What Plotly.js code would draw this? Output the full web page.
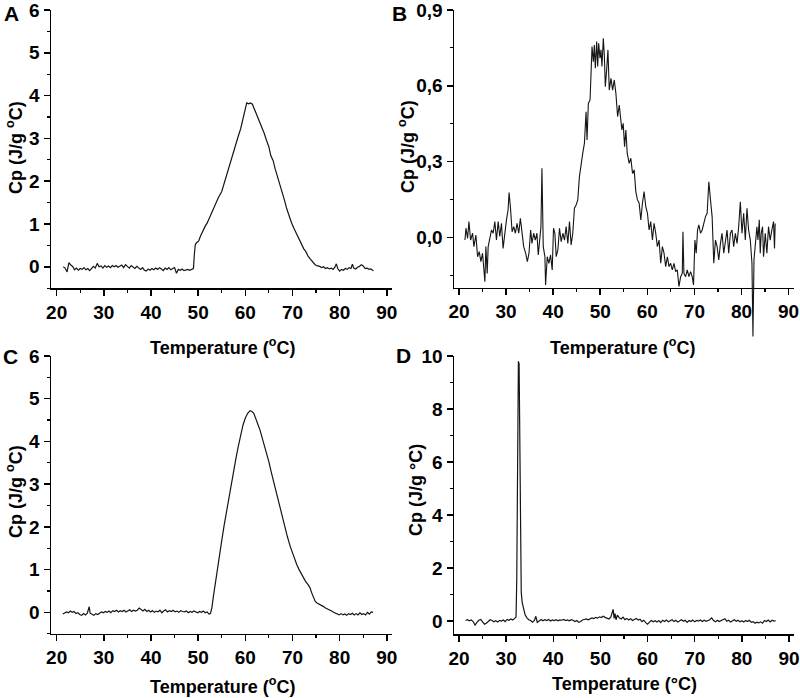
<!DOCTYPE html>
<html>
<head>
<meta charset="utf-8">
<script src="https://cdn.plot.ly/plotly-3.0.1.min.js"></script>
<style>html,body{margin:0;padding:0;background:#fff;}#chart{width:800px;height:698px;}</style>
</head>
<body>
<div id="chart"></div>
<script>
// ---------- Panel A ----------
const aX = [
21.4,21.8,22.2,22.6,23.0,23.4,23.8,24.2,24.6,25.0,
25.4,25.8,26.2,26.6,27.0,27.4,27.8,28.2,28.6,29.0,
29.4,29.8,30.2,30.6,31.0,31.4,31.8,32.2,32.6,33.0,
33.4,33.8,34.2,34.6,35.0,35.4,35.8,36.2,36.6,37.0,
37.4,37.8,38.2,38.6,39.0,39.4,39.8,40.2,40.6,41.0,
41.4,41.8,42.2,42.6,43.0,43.4,43.8,44.2,44.6,45.0,
45.4,45.8,46.2,46.6,47.0,47.4,47.8,48.2,48.6,
49.0,49.2,49.4,49.7,50.1,50.5,51.0,51.5,51.9,52.4,
52.9,53.3,53.8,54.3,55.0,55.5,56.0,56.5,57.0,57.5,
58.0,58.5,59.0,59.5,60.0,60.3,60.7,61.1,61.5,61.8,
62.2,62.6,63.0,63.5,64.0,64.5,65.0,65.4,65.9,66.3,
66.8,67.3,67.8,68.3,68.8,69.3,69.8,70.3,70.9,71.4,
71.9,72.4,72.8,73.3,73.8,74.3,74.8,75.3,75.8,76.2,
76.6,77.0,77.4,77.8,78.2,78.6,79.0,79.3,79.6,80.0,
80.4,80.8,81.2,81.6,82.0,82.4,82.7,83.0,83.4,83.8,
84.2,84.6,85.0,85.4,85.8,86.2,86.6,87.0,87.2];
const aY = [
0.00,-0.03,-0.12,0.10,0.04,0.01,-0.07,-0.03,-0.08,-0.04,
-0.06,-0.02,-0.07,-0.04,-0.09,-0.05,0.01,-0.03,0.08,0.00,
0.02,-0.03,0.03,-0.01,0.02,-0.02,0.03,0.00,0.03,-0.01,
0.02,0.04,-0.02,0.05,0.01,-0.03,0.03,0.00,-0.04,0.01,
-0.03,-0.06,-0.02,-0.08,-0.10,-0.05,-0.08,-0.04,-0.07,-0.03,
-0.06,-0.02,-0.05,-0.09,-0.03,-0.06,-0.02,-0.07,-0.04,-0.02,
-0.15,-0.06,-0.08,-0.05,-0.09,-0.07,-0.06,-0.08,-0.05,
-0.04,0.30,0.52,0.57,0.60,0.72,0.85,0.95,1.02,1.15,
1.28,1.36,1.48,1.62,1.76,1.95,2.13,2.30,2.50,2.68,
2.86,3.05,3.22,3.48,3.70,3.83,3.81,3.83,3.80,3.72,
3.62,3.52,3.40,3.26,3.12,2.95,2.80,2.60,2.48,2.30,
2.12,1.95,1.75,1.56,1.35,1.17,1.03,0.90,0.76,0.62,
0.52,0.42,0.36,0.25,0.18,0.10,0.05,0.02,0.01,-0.02,
0.00,-0.04,-0.02,-0.05,-0.03,-0.06,-0.01,0.07,-0.04,-0.10,
-0.06,-0.08,-0.04,-0.06,-0.02,-0.04,0.06,-0.03,-0.05,-0.01,
0.01,0.05,0.02,-0.04,-0.03,-0.06,-0.05,-0.08,-0.09];

// ---------- Panel B ----------
const bX = [
21.27,21.48,21.83,22.11,22.47,22.89,23.17,23.59,23.95,24.30,
24.65,25.00,25.50,25.71,25.99,26.20,26.55,26.91,27.26,27.61,
27.96,28.32,28.67,29.02,29.37,29.73,30.08,30.43,30.64,30.92,
31.28,31.63,31.98,32.33,32.69,33.04,33.39,33.74,34.16,34.52,
34.87,35.22,35.50,35.86,36.21,36.56,36.84,37.12,37.41,37.62,
37.90,38.25,38.39,38.75,39.10,39.45,39.80,40.08,40.37,40.65,
41.00,41.35,41.71,42.06,42.41,42.76,43.12,43.47,43.82,44.17,
44.52,44.88,45.23,45.58,45.93,46.29,46.64,46.99,47.20,47.48,
47.84,48.05,48.26,48.54,48.75,48.96,49.25,49.46,49.67,49.95,
50.16,50.37,50.66,50.87,51.08,51.36,51.64,51.92,52.28,52.63,
52.98,53.33,53.69,54.04,54.32,54.60,54.88,55.17,55.45,55.73,
56.15,56.50,56.86,57.21,57.56,57.91,58.27,58.62,58.97,59.32,
59.68,60.03,60.38,60.73,61.09,61.44,61.79,62.14,62.50,62.85,
63.20,63.55,63.90,64.26,64.61,64.96,65.31,65.67,66.02,66.37,
66.72,67.08,67.43,67.57,67.78,68.13,68.48,68.84,69.19,69.54,
69.82,70.11,70.39,70.67,70.95,71.30,71.66,72.01,72.36,72.71,
73.07,73.42,73.77,74.12,74.48,74.83,75.18,75.53,75.88,76.24,
76.59,76.94,77.29,77.65,78.00,78.35,78.70,79.06,79.41,79.76,
80.11,80.47,80.82,81.17,81.52,81.88,82.23,82.44,82.66,83.07,
83.28,83.50,83.78,83.99,84.20,84.48,84.69,85.05,85.40,85.75,
86.10,86.46,86.81,87.02,87.16];
const bY = [
-0.011,0.036,-0.004,0.062,-0.011,0.016,-0.037,0.009,-0.077,-0.057,
-0.096,-0.063,-0.176,-0.037,-0.143,-0.037,-0.004,0.029,0.016,0.062,
-0.011,0.062,0.003,0.055,-0.044,0.029,0.069,0.108,0.177,0.121,
0.022,0.042,0.016,0.055,0.016,0.075,0.016,-0.037,-0.063,-0.096,
-0.063,0.029,-0.024,0.016,-0.011,0.016,-0.070,-0.011,0.042,0.273,
-0.037,-0.077,-0.189,-0.077,-0.103,-0.070,-0.129,0.036,0.016,-0.077,
-0.050,0.036,-0.017,0.016,-0.011,0.042,-0.024,0.062,-0.030,0.016,
0.115,0.128,0.148,0.240,0.293,0.333,0.372,0.497,0.385,0.530,
0.544,0.676,0.755,0.695,0.761,0.669,0.775,0.676,0.768,0.709,
0.742,0.676,0.788,0.722,0.596,0.662,0.742,0.583,0.629,0.583,
0.623,0.570,0.478,0.524,0.464,0.425,0.451,0.359,0.425,0.333,
0.293,0.313,0.253,0.267,0.181,0.148,0.135,0.069,0.135,0.181,
0.121,0.095,0.029,0.062,-0.011,0.055,0.016,-0.037,-0.011,-0.103,
-0.037,-0.063,-0.116,-0.077,-0.116,-0.103,-0.129,-0.103,-0.136,-0.129,
-0.195,-0.156,-0.143,0.022,-0.143,-0.156,-0.129,-0.156,-0.136,-0.156,
-0.189,-0.011,-0.063,0.029,0.049,0.016,0.029,0.055,0.082,0.095,
0.220,0.148,0.082,-0.103,-0.011,-0.037,-0.090,-0.024,0.016,-0.063,
-0.011,0.029,-0.063,0.016,0.029,-0.037,0.016,-0.024,0.042,0.141,
0.016,0.095,-0.011,0.115,0.029,-0.011,-0.103,-0.393,-0.090,0.016,
0.042,-0.011,0.069,-0.063,0.016,0.042,-0.077,0.016,-0.063,0.042,
-0.011,0.029,0.062,-0.044,0.055];

// ---------- Panel C ----------
const cX = [
21.3,21.7,22.1,22.5,22.9,23.3,23.7,24.1,24.5,24.9,
25.3,25.7,26.1,26.5,26.9,27.1,27.5,27.9,28.3,28.7,
29.1,29.5,29.9,30.3,30.7,31.1,31.5,31.9,32.3,32.7,
33.1,33.5,33.9,34.3,34.7,35.1,35.5,35.9,36.3,36.7,
37.1,37.5,37.9,38.3,38.7,39.1,39.5,39.9,40.3,40.7,
41.1,41.5,41.9,42.3,42.7,43.1,43.5,43.9,44.3,44.7,
45.1,45.5,45.9,46.3,46.7,47.1,47.5,47.9,48.3,48.7,
49.1,49.5,49.9,50.3,50.7,51.1,51.5,51.9,52.3,52.6,
52.9,53.2,53.5,53.8,54.1,54.5,55.0,55.5,56.0,56.5,
57.0,57.5,58.0,58.5,59.0,59.5,60.0,60.5,61.0,61.4,
61.8,62.2,62.6,63.1,63.6,64.1,64.5,65.0,65.5,65.9,
66.4,66.9,67.3,67.8,68.4,68.9,69.5,70.0,70.5,70.9,
71.4,71.9,72.3,72.8,73.3,73.7,74.1,74.5,74.8,75.2,
75.6,76.0,76.5,77.0,77.5,77.9,78.3,78.7,79.1,79.5,
79.9,80.3,80.7,81.1,81.5,81.9,82.3,82.7,83.1,83.5,
83.9,84.3,84.7,85.1,85.5,85.9,86.3,86.7,87.1];
const cY = [
-0.04,-0.02,0.01,-0.01,0.03,0.00,0.02,-0.03,-0.01,-0.05,
-0.07,-0.03,-0.06,-0.02,0.13,-0.02,-0.05,-0.07,-0.03,-0.05,
-0.02,0.01,-0.01,0.02,0.00,0.03,-0.01,0.04,0.02,0.05,
0.01,0.04,0.02,0.05,0.01,0.04,0.06,0.02,0.05,0.03,
0.05,0.10,0.06,0.03,0.07,0.02,0.05,0.01,0.04,0.00,
0.03,0.01,0.05,-0.01,0.03,0.06,0.01,0.04,0.02,0.05,
0.01,0.03,0.00,0.04,0.02,0.01,0.03,-0.01,0.02,0.00,
0.03,0.01,-0.01,0.02,0.00,0.03,-0.01,0.01,-0.04,-0.03,
0.10,0.35,0.58,0.85,1.08,1.32,1.68,2.03,2.36,2.70,
2.98,3.30,3.60,3.88,4.15,4.38,4.55,4.66,4.72,4.70,
4.66,4.56,4.42,4.27,4.08,3.88,3.73,3.52,3.28,3.10,
2.86,2.65,2.48,2.26,2.01,1.78,1.55,1.38,1.23,1.12,
1.00,0.90,0.81,0.72,0.65,0.58,0.45,0.33,0.26,0.22,
0.20,0.17,0.14,0.10,0.08,0.05,0.03,0.00,-0.02,-0.05,
-0.06,-0.03,-0.06,-0.04,-0.07,-0.03,-0.05,-0.02,-0.06,-0.03,
-0.06,-0.01,-0.05,-0.03,-0.06,0.00,-0.04,0.01,0.00];

// ---------- Panel D ----------
const dX = [
21.4,21.8,22.2,22.6,23.0,23.4,23.8,24.2,24.6,25.0,
25.4,25.8,26.2,26.6,27.0,27.4,27.8,28.2,28.6,29.0,
29.4,29.8,30.2,30.6,31.0,31.4,31.8,32.1,32.25,32.45,
32.6,32.75,32.9,33.05,33.2,33.4,33.7,34.0,34.4,34.8,
35.2,35.6,36.0,36.3,36.6,37.0,37.4,37.8,38.2,38.6,
39.0,39.4,39.8,40.2,40.6,41.0,41.4,41.8,42.2,42.6,
43.0,43.4,43.8,44.2,44.6,45.0,45.4,45.8,46.2,46.6,
47.0,47.4,47.8,48.2,48.6,49.0,49.4,49.8,50.2,50.6,
51.0,51.4,51.8,52.2,52.5,52.7,52.9,53.1,53.3,53.6,
54.0,54.4,54.8,55.2,55.6,56.0,56.4,56.8,57.2,57.6,
58.0,58.4,58.8,59.2,59.6,60.0,60.4,60.8,61.2,61.6,
62.0,62.4,62.8,63.2,63.6,64.0,64.4,64.8,65.2,65.6,
66.0,66.4,66.8,67.2,67.6,68.0,68.4,68.8,69.2,69.6,
70.0,70.4,70.8,71.2,71.6,72.0,72.4,72.8,73.2,73.6,
74.0,74.4,74.8,75.2,75.6,76.0,76.4,76.8,77.2,77.6,
78.0,78.4,78.8,79.2,79.6,80.0,80.4,80.8,81.2,81.6,
82.0,82.4,82.8,83.2,83.6,84.0,84.4,84.8,85.2,85.6,
86.0,86.4,86.8,87.2];
const dY = [
0.02,0.05,0.01,0.04,-0.02,-0.15,-0.05,0.03,0.06,-0.04,
-0.12,-0.08,0.00,0.05,0.02,-0.03,0.01,-0.04,0.02,0.00,
0.04,-0.02,0.06,0.03,0.08,0.04,0.10,0.15,1.55,9.30,
9.80,9.70,6.00,2.60,1.10,0.70,0.42,0.25,0.12,0.05,
0.02,-0.04,0.02,0.18,-0.05,0.02,0.06,0.01,0.05,0.02,
0.06,0.00,0.04,0.02,0.05,0.01,0.04,0.03,0.06,0.02,
0.04,0.01,0.05,0.03,-0.02,0.02,-0.05,-0.02,0.04,0.06,
0.08,0.05,0.10,0.12,0.09,0.14,0.11,0.16,0.13,0.18,
0.14,0.12,0.08,0.15,0.35,0.44,0.10,0.28,0.05,0.22,
0.12,0.08,0.15,0.05,0.10,0.04,0.09,0.02,0.06,0.10,
0.04,0.07,-0.02,0.03,-0.06,-0.12,-0.04,0.02,-0.03,0.01,
-0.04,0.02,-0.06,0.03,-0.02,0.04,-0.03,0.02,0.05,-0.02,
0.03,-0.04,0.02,0.05,-0.01,0.03,-0.05,0.02,-0.02,0.04,
-0.03,0.02,0.00,0.04,-0.02,0.03,-0.01,0.02,0.05,0.12,
0.02,-0.03,0.03,-0.02,0.01,0.04,0.09,-0.01,0.03,-0.04,
0.02,0.05,-0.01,0.03,-0.03,0.01,-0.04,0.02,-0.02,0.03,
-0.05,-0.02,-0.08,-0.04,-0.07,-0.03,-0.08,0.02,-0.02,0.04,
-0.03,0.03,0.00,0.01];

const panelLetters = ['A','B','C','D'];
const xTitleSup = 'Temperature (<sup>o</sup>C)';
const yTitleSup = 'Cp (J/g <sup>o</sup>C)';
const xTitleDeg = 'Temperature (°C)';
const yTitleDeg = 'Cp (J/g °C)';

// ---------- layout helpers ----------
const W = 800, H = 698;
const FONT = 'Liberation Sans, Arial, Helvetica, sans-serif';
const TICK = {family: FONT, size: 19, color: '#000', weight: 'bold'};
const px2x = p => p / W;
const py2y = p => 1 - p / H;

function xAx(l, r, range, anchor) {
  return {
    domain: [px2x(l), px2x(r)], range: range, anchor: anchor,
    showline: true, linecolor: '#000', linewidth: 1.5, mirror: false,
    ticks: 'outside', ticklen: 6, tickwidth: 1.5, tickcolor: '#000',
    tick0: 0, dtick: 10,
    minor: {ticks: 'outside', ticklen: 3, tickwidth: 1.2, tickcolor: '#000', dtick: 5, showgrid: false},
    showgrid: false, zeroline: false,
    tickfont: TICK
  };
}
function yAx(top, bot, range, anchor, dtick, minor, fmt) {
  const o = {
    domain: [py2y(bot), py2y(top)], range: range, anchor: anchor,
    showline: true, linecolor: '#000', linewidth: 1.5, mirror: false,
    ticks: 'outside', ticklen: 6, tickwidth: 1.5, tickcolor: '#000',
    tick0: 0, dtick: dtick,
    minor: {ticks: 'outside', ticklen: 3, tickwidth: 1.2, tickcolor: '#000', dtick: minor, showgrid: false},
    showgrid: false, zeroline: false,
    ticklabeloverflow: 'allow',
    tickfont: TICK
  };
  if (fmt) o.tickformat = fmt;
  return o;
}

// B hidden overlay subplot (same scale, taller clip area so the spike shows below the axis)
const bTop = 10, bBot = 287.8, bRange = [-0.2, 0.9];
const bPerUnit = (bBot - bTop) / (bRange[1] - bRange[0]);
const bExtBot = 345;
const bExtLow = bRange[1] - (bExtBot - bTop) / bPerUnit;

const line = {color: '#151515', width: 1.2};
const traces = [
  {x: aX, y: aY, xaxis: 'x', yaxis: 'y', mode: 'lines', line: line, hoverinfo: 'skip'},
  {x: [], y: [], xaxis: 'x2', yaxis: 'y2', mode: 'lines', hoverinfo: 'skip'},
  {x: bX, y: bY, xaxis: 'x5', yaxis: 'y5', mode: 'lines', line: {color: '#151515', width: 1.1}, hoverinfo: 'skip'},
  {x: cX, y: cY, xaxis: 'x3', yaxis: 'y3', mode: 'lines', line: line, hoverinfo: 'skip'},
  {x: dX, y: dY, xaxis: 'x4', yaxis: 'y4', mode: 'lines', line: line, hoverinfo: 'skip'}
];

function ann(text, x, y, size, angle) {
  return {text: text, x: px2x(x), y: py2y(y), xref: 'paper', yref: 'paper',
    xanchor: 'center', yanchor: 'middle', showarrow: false, textangle: angle || 0,
    font: {family: FONT, size: size, color: '#000', weight: 'bold'}};
}

const layout = {
  width: W, height: H,
  margin: {l: 0, r: 0, t: 0, b: 0},
  paper_bgcolor: '#fff', plot_bgcolor: 'rgba(0,0,0,0)',
  showlegend: false,
  separators: ',.',
  font: {family: FONT, color: '#000'},
  xaxis: xAx(51, 392, [18.8, 91.1], 'y'),
  yaxis: yAx(10, 288.2, [-0.5, 6.001], 'x', 1, 0.5),
  xaxis2: xAx(454, 794, [18.94, 91.16], 'y2'),
  yaxis2: yAx(bTop, bBot, bRange, 'x2', 0.3, 0.15, '.1f'),
  xaxis3: xAx(51, 392, [18.8, 91.1], 'y3'),
  yaxis3: yAx(356, 633.7, [-0.5, 6], 'x3', 1, 0.5),
  xaxis4: xAx(454, 794, [18.94, 91.06], 'y4'),
  yaxis4: yAx(356, 634.3, [-0.5, 10], 'x4', 2, 1),
  xaxis5: {domain: [px2x(454), px2x(794)], range: [18.94, 91.16], anchor: 'y5', visible: false, fixedrange: true},
  yaxis5: {domain: [py2y(bExtBot), py2y(bTop)], range: [bExtLow, bRange[1]], anchor: 'x5', visible: false, fixedrange: true},
  annotations: [
    ann(panelLetters[0], 11, 14, 21),
    ann(panelLetters[1], 399, 14, 21),
    ann(panelLetters[2], 10, 356, 21),
    ann(panelLetters[3], 403, 355, 21),
    ann(xTitleSup, 222, 346, 18),
    ann(xTitleSup, 622, 346, 18),
    ann(xTitleSup, 222, 685, 18),
    ann(xTitleDeg, 624, 684, 18),
    ann(yTitleSup, 14, 148, 18, -90),
    ann(yTitleSup, 406, 146, 18, -90),
    ann(yTitleSup, 14, 492, 18, -90),
    ann(yTitleDeg, 416, 490, 18, -90)
  ]
};

Plotly.newPlot('chart', traces, layout, {staticPlot: true, displayModeBar: false});
</script>
</body>
</html>
